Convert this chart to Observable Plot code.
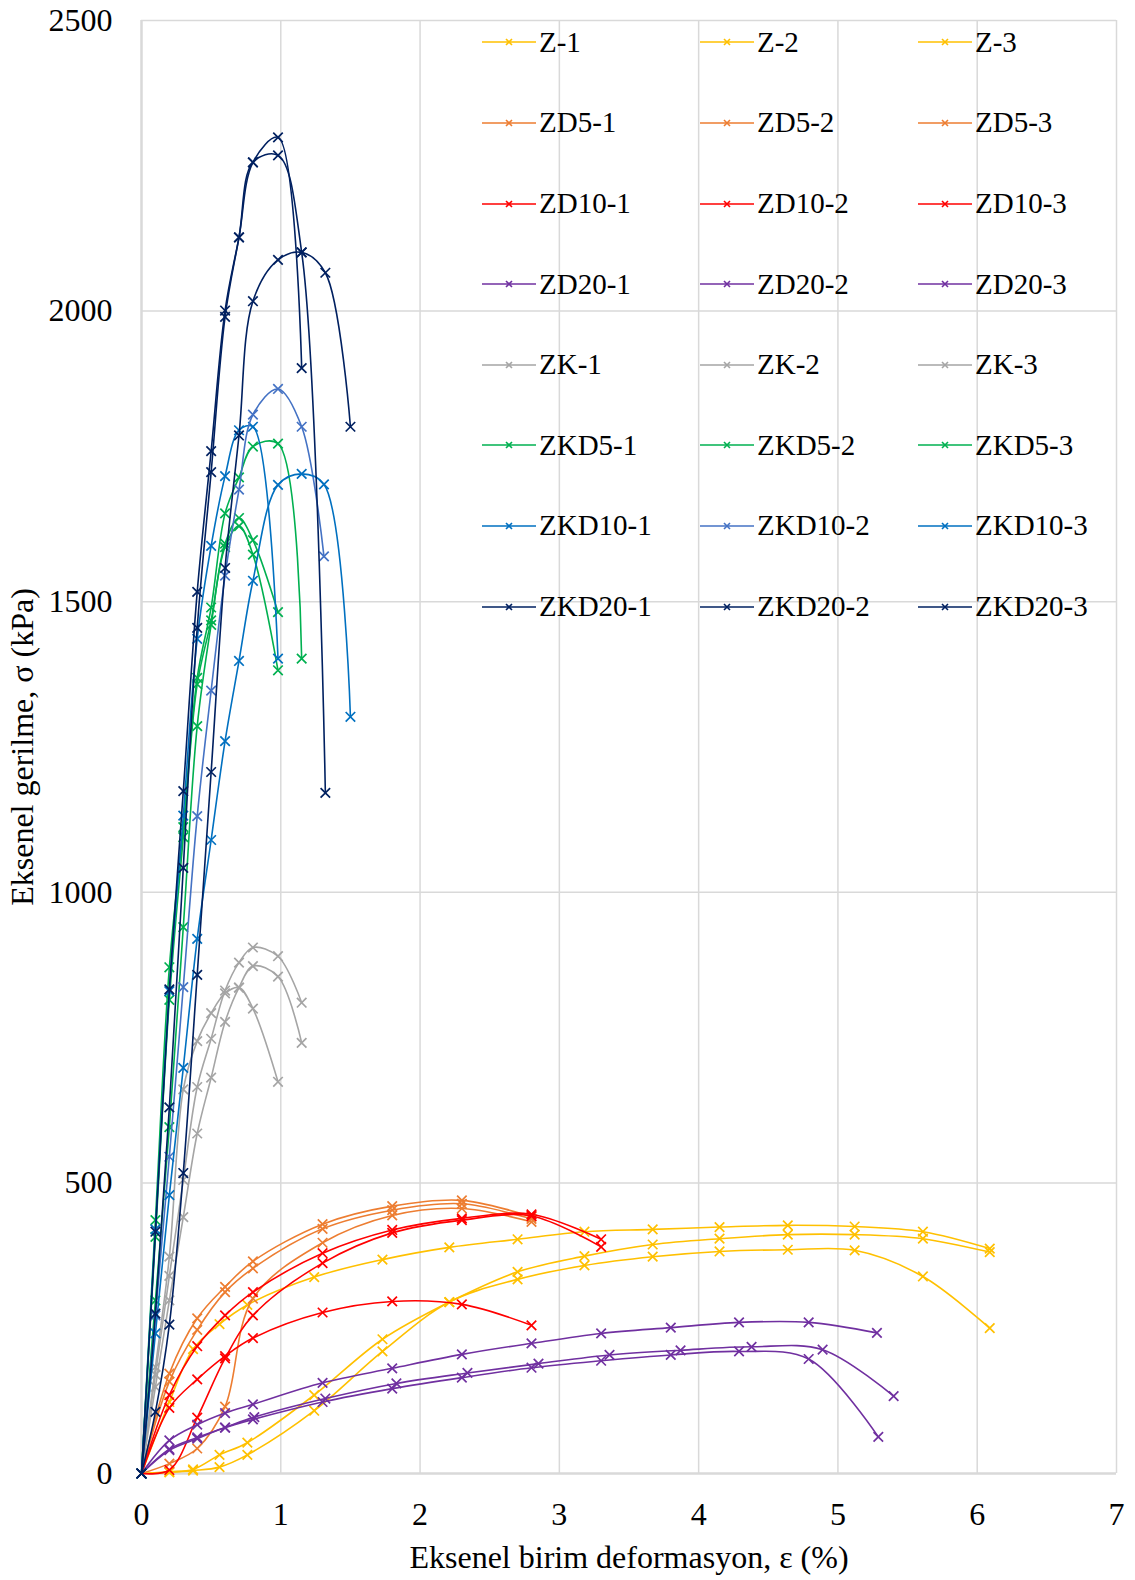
<!DOCTYPE html>
<html><head><meta charset="utf-8">
<script src="https://cdn.jsdelivr.net/npm/d3@7"></script>
<script src="https://cdn.jsdelivr.net/npm/@observablehq/plot@0.6"></script>
<style>
body{margin:0;background:#fff;}
#wrap{position:relative;width:1135px;height:1580px;font-family:"Liberation Serif","Times New Roman",serif;}
.entry{position:absolute;display:flex;align-items:center;height:40px;font-size:29px;color:#000;white-space:nowrap;line-height:1;font-family:"Liberation Serif","Times New Roman",serif;}
.entry svg{display:block;margin-right:3px}
svg text{font-family:"Liberation Serif","Times New Roman",serif;}
</style></head><body><div id="wrap"></div>
<script>
// ---- tick labels ----
const xTicks = [0, 1, 2, 3, 4, 5, 6, 7];
const yTicks = [0, 500, 1000, 1500, 2000, 2500];

// ---- series names and colours ----
const seriesNames = ["Z-1","Z-2","Z-3","ZD5-1","ZD5-2","ZD5-3","ZD10-1","ZD10-2","ZD10-3","ZD20-1","ZD20-2","ZD20-3",
  "ZK-1","ZK-2","ZK-3","ZKD5-1","ZKD5-2","ZKD5-3","ZKD10-1","ZKD10-2","ZKD10-3","ZKD20-1","ZKD20-2","ZKD20-3"];
const seriesColors = ["#FFC000","#FFC000","#FFC000","#ED7D31","#ED7D31","#ED7D31","#FF0000","#FF0000","#FF0000",
  "#7030A0","#7030A0","#7030A0","#A5A5A5","#A5A5A5","#A5A5A5","#00B050","#00B050","#00B050",
  "#0070C0","#4472C4","#0070C0","#002060","#002060","#002060"];

// ---- data: strain (%) and stress (kPa) ----
const z1Strain = [0, 0.2, 0.37, 0.56, 0.76, 1.24, 1.73, 2.21, 2.70, 3.18, 3.67, 4.15, 4.64, 5.12, 5.61, 6.09];
const z1Stress = [0, 123, 214, 257, 290, 338, 368, 389, 403, 416, 420, 424, 427, 425, 416, 387];
const z2Strain = [0, 0.2, 0.37, 0.56, 0.76, 1.24, 1.73, 2.21, 2.70, 3.18, 3.67, 4.15, 4.64, 5.12, 5.61, 6.09];
const z2Stress = [0, 3, 7, 32, 53, 135, 231, 295, 347, 374, 394, 404, 411, 411, 404, 381];
const z3Strain = [0, 0.2, 0.37, 0.56, 0.76, 1.24, 1.73, 2.21, 2.70, 3.18, 3.67, 4.15, 4.64, 5.12, 5.61, 6.09];
const z3Stress = [0, 2, 5, 11, 32, 108, 210, 295, 334, 358, 373, 382, 385, 384, 339, 250];

const zd51Strain = [0, 0.2, 0.4, 0.6, 0.8, 1.3, 1.8, 2.3, 2.8];
const zd51Stress = [0, 172, 267, 321, 365, 429, 460, 470, 442];
const zd52Strain = [0, 0.2, 0.4, 0.6, 0.8, 1.3, 1.8, 2.3, 2.8];
const zd52Stress = [0, 158, 247, 312, 353, 421, 453, 464, 438];
const zd53Strain = [0, 0.2, 0.4, 0.6, 0.8, 1.3, 1.8, 2.3, 2.8];
const zd53Stress = [0, 17, 43, 115, 301, 397, 444, 456, 433];

const zd101Strain = [0, 0.2, 0.4, 0.6, 0.8, 1.3, 1.8, 2.3, 2.8, 3.3];
const zd101Stress = [0, 135, 219, 272, 312, 379, 419, 439, 446, 403];
const zd102Strain = [0, 0.2, 0.4, 0.6, 0.8, 1.3, 1.8, 2.3, 2.8, 3.3];
const zd102Stress = [0, 6, 96, 198, 272, 362, 414, 436, 443, 390];
const zd103Strain = [0, 0.2, 0.4, 0.6, 0.8, 1.3, 1.8, 2.3, 2.8];
const zd103Stress = [0, 113, 162, 202, 233, 277, 296, 291, 255];

const zd201Strain = [0, 0.2, 0.4, 0.6, 0.8, 1.3, 1.8, 2.3, 2.8, 3.3, 3.8, 4.29, 4.79, 5.28];
const zd201Stress = [0, 57, 84, 104, 119, 156, 181, 205, 224, 241, 251, 260, 260, 242];
const zd202Strain = [0, 0.2, 0.4, 0.6, 0.81, 1.32, 1.83, 2.34, 2.85, 3.36, 3.87, 4.38, 4.89, 5.4];
const zd202Stress = [0, 42, 62, 79, 97, 129, 155, 173, 189, 204, 212, 218, 213, 133];
const zd203Strain = [0, 0.2, 0.4, 0.6, 0.8, 1.3, 1.8, 2.3, 2.8, 3.3, 3.8, 4.29, 4.79, 5.29];
const zd203Stress = [0, 40, 60, 79, 93, 123, 146, 165, 182, 194, 204, 210, 197, 63];

const zk1Strain = [0, 0.1, 0.2, 0.3, 0.4, 0.5, 0.6, 0.7, 0.8, 0.98, 1.15];
const zk1Stress = [0, 170, 340, 505, 665, 748, 831, 879, 905, 890, 810];
const zk2Strain = [0, 0.1, 0.2, 0.3, 0.4, 0.5, 0.6, 0.7, 0.8, 0.98, 1.15];
const zk2Stress = [0, 149, 298, 441, 585, 681, 777, 836, 873, 855, 741];
const zk3Strain = [0, 0.1, 0.2, 0.3, 0.4, 0.5, 0.6, 0.7, 0.8, 0.98];
const zk3Stress = [0, 183, 373, 661, 744, 792, 826, 836, 800, 674];

const zkd51Strain = [0, 0.1, 0.2, 0.3, 0.4, 0.5, 0.6, 0.7, 0.8, 0.98, 1.15];
const zkd51Stress = [0, 436, 871, 1112, 1369, 1490, 1652, 1714, 1767, 1772, 1402];
const zkd52Strain = [0, 0.1, 0.2, 0.3, 0.4, 0.5, 0.6, 0.7, 0.8, 0.98];
const zkd52Stress = [0, 407, 815, 1095, 1358, 1468, 1600, 1644, 1606, 1482];
const zkd53Strain = [0, 0.1, 0.2, 0.3, 0.4, 0.5, 0.6, 0.7, 0.8, 0.98];
const zkd53Stress = [0, 298, 596, 940, 1286, 1460, 1594, 1630, 1581, 1382];

const zkd101Strain = [0, 0.1, 0.2, 0.3, 0.4, 0.5, 0.6, 0.7, 0.8, 0.98];
const zkd101Stress = [0, 420, 830, 1132, 1436, 1596, 1716, 1795, 1801, 1402];
const zkd102Strain = [0, 0.1, 0.2, 0.3, 0.4, 0.5, 0.6, 0.7, 0.8, 0.98, 1.15, 1.31];
const zkd102Stress = [0, 272, 545, 837, 1131, 1347, 1545, 1693, 1822, 1866, 1801, 1578];
const zkd103Strain = [0, 0.1, 0.2, 0.3, 0.4, 0.5, 0.6, 0.7, 0.8, 0.98, 1.15, 1.31, 1.5];
const zkd103Stress = [0, 241, 479, 698, 920, 1090, 1260, 1398, 1536, 1701, 1720, 1702, 1302];

const zkd201Strain = [0, 0.1, 0.2, 0.3, 0.4, 0.5, 0.6, 0.7, 0.8, 0.98, 1.15];
const zkd201Stress = [0, 416, 833, 1174, 1517, 1759, 2001, 2127, 2256, 2299, 1902];
const zkd202Strain = [0, 0.1, 0.2, 0.3, 0.4, 0.5, 0.6, 0.7, 0.8, 0.98, 1.15, 1.32];
const zkd202Stress = [0, 275, 630, 1042, 1455, 1723, 1990, 2127, 2256, 2268, 2101, 1171];
const zkd203Strain = [0, 0.1, 0.2, 0.3, 0.4, 0.5, 0.6, 0.7, 0.8, 0.98, 1.15, 1.32, 1.5];
const zkd203Stress = [0, 106, 256, 517, 858, 1207, 1558, 1786, 2017, 2088, 2101, 2066, 1801];

const seriesData = [
  [z1Strain, z1Stress], [z2Strain, z2Stress], [z3Strain, z3Stress],
  [zd51Strain, zd51Stress], [zd52Strain, zd52Stress], [zd53Strain, zd53Stress],
  [zd101Strain, zd101Stress], [zd102Strain, zd102Stress], [zd103Strain, zd103Stress],
  [zd201Strain, zd201Stress], [zd202Strain, zd202Stress], [zd203Strain, zd203Stress],
  [zk1Strain, zk1Stress], [zk2Strain, zk2Stress], [zk3Strain, zk3Stress],
  [zkd51Strain, zkd51Stress], [zkd52Strain, zkd52Stress], [zkd53Strain, zkd53Stress],
  [zkd101Strain, zkd101Stress], [zkd102Strain, zkd102Stress], [zkd103Strain, zkd103Stress],
  [zkd201Strain, zkd201Stress], [zkd202Strain, zkd202Stress], [zkd203Strain, zkd203Stress]
];

const rowsBySeries = seriesNames.map((name, i) =>
  seriesData[i][0].map((x, j) => ({name, strain: x, stress: seriesData[i][1][j]})));

const GRID = "#D9D9D9";
const FONT = "Liberation Serif, Times New Roman, serif";

const seriesMarks = rowsBySeries.flatMap((rows, i) => [
  Plot.line(rows, {x: "strain", y: "stress", stroke: seriesColors[i], strokeWidth: 1.6, curve: "catmull-rom"}),
  Plot.dot(rows, {x: "strain", y: "stress", stroke: seriesColors[i], symbol: "times", r: 4.4, strokeWidth: 1.7})
]);

const chart = Plot.plot({
  width: 1135,
  height: 1580,
  marginLeft: 141,
  marginRight: 19,
  marginTop: 20,
  marginBottom: 107,
  style: {fontFamily: FONT, fontSize: "32px", color: "#000", background: "#fff"},
  x: {domain: [0, 7]},
  y: {domain: [0, 2500]},
  marks: [
    Plot.gridX(xTicks.slice(1), {stroke: GRID, strokeOpacity: 1, strokeWidth: 1.5}),
    Plot.gridY(yTicks.slice(1), {stroke: GRID, strokeOpacity: 1, strokeWidth: 1.5}),
    Plot.ruleX([0], {stroke: GRID, strokeWidth: 2.5}),
    Plot.ruleY([0], {stroke: GRID, strokeWidth: 2.5}),
    Plot.axisX(xTicks, {tickSize: 0, tickPadding: 29, fontSize: 32, fontFamily: FONT, fill: "#000",
      tickFormat: d => String(d),
      label: "Eksenel birim deformasyon, ε (%)", labelAnchor: "center", labelArrow: "none", labelOffset: 94}),
    Plot.axisY(yTicks, {tickSize: 0, tickPadding: 29, fontSize: 32, fontFamily: FONT, fill: "#000",
      tickFormat: d => String(d),
      label: "Eksenel gerilme, σ (kPa)", labelAnchor: "center", labelArrow: "none", labelOffset: 131}),
    ...seriesMarks
  ]
});

const wrap = document.getElementById("wrap");
wrap.appendChild(chart);

// ---- legend overlay (3 columns x 8 rows) ----
const colLeft = [482, 700, 918];
const rowTop = 42.3, rowStep = 80.6;
seriesNames.forEach((name, i) => {
  const col = i % 3, row = Math.floor(i / 3);
  const e = document.createElement("div");
  e.className = "entry";
  e.style.left = colLeft[col] + "px";
  e.style.top = (rowTop + row * rowStep - 20) + "px";
  const c = seriesColors[i];
  e.innerHTML = `<svg width="54" height="20"><line x1="0" y1="10" x2="54" y2="10" stroke="${c}" stroke-width="1.6"/>` +
    `<path d="M24,7L30,13M30,7L24,13" stroke="${c}" stroke-width="1.6"/></svg><span>${name}</span>`;
  wrap.appendChild(e);
});
</script>
</body></html>
